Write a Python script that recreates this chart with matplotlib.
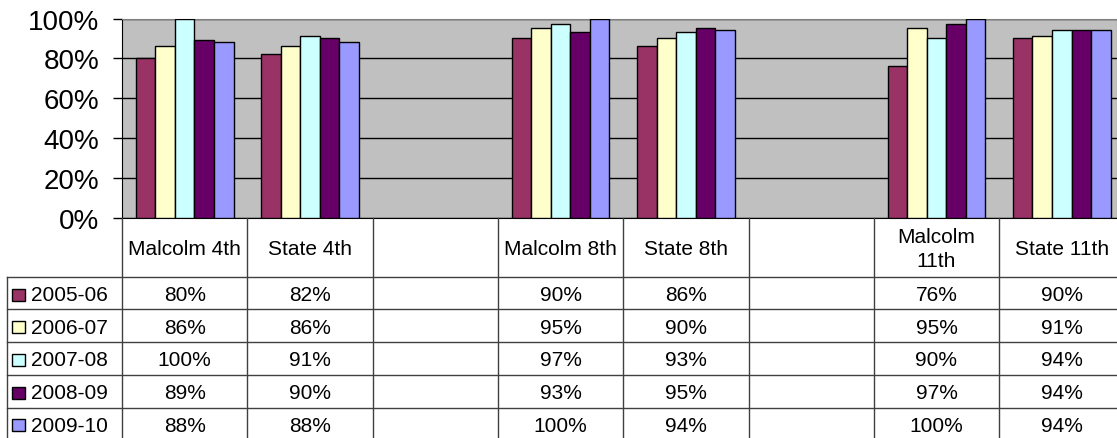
import numpy as np
import matplotlib.pyplot as plt
from matplotlib.patches import Rectangle

plt.rcParams['font.family'] = ['Liberation Sans', 'DejaVu Sans']

categories = ['Malcolm 4th', 'State 4th', '', 'Malcolm 8th', 'State 8th', '', 'Malcolm\n11th', 'State 11th']
years = ['2005-06', '2006-07', '2007-08', '2008-09', '2009-10']
colors = ['#993366', '#FFFFCC', '#CCFFFF', '#660066', '#9999FF']

y2005 = [80, 82, None, 90, 86, None, 76, 90]
y2006 = [86, 86, None, 95, 90, None, 95, 91]
y2007 = [100, 91, None, 97, 93, None, 90, 94]
y2008 = [89, 90, None, 93, 95, None, 97, 94]
y2009 = [88, 88, None, 100, 94, None, 100, 94]
series = [y2005, y2006, y2007, y2008, y2009]

W, H = 1117, 439
cat_px = 125.3
x0_px = 122
zero_px = 219.3
top_px = 19.5

fig = plt.figure(figsize=(W / 100, H / 100), dpi=100)

ax = fig.add_axes([x0_px / W, 1 - zero_px / H, (W - x0_px) / W, (zero_px - top_px) / H])
ax.set_facecolor('#C0C0C0')
xmax = -0.5 + (W - x0_px) / cat_px
ax.set_xlim(-0.5, xmax)
ax.set_ylim(0, 1)

bw = 0.156
x = np.arange(len(categories))
for i, s in enumerate(series):
    vals = np.array([np.nan if v is None else v / 100 for v in s])
    ax.bar(x + (i - 2) * bw, vals, bw, color=colors[i], edgecolor='black', linewidth=1, zorder=3)

ax.set_yticks(np.arange(0, 1.01, 0.2))
ax.set_yticklabels(['%d%%' % round(t * 100) for t in np.arange(0, 1.01, 0.2)], fontsize=20)
ax.tick_params(axis='y', direction='out', length=6.5, width=1, pad=10, color='black')
ax.set_xticks([])
ax.yaxis.grid(True, color='black', linewidth=1)
ax.set_axisbelow(True)
ax.spines['top'].set_color('#808080')
ax.spines['right'].set_color('#808080')
ax.spines['left'].set_color('black')
ax.spines['bottom'].set_color('black')

# data table below the chart
tb = fig.add_axes([x0_px / W, 0, (W - x0_px) / W, 1 - zero_px / H])
tb.set_xlim(-0.5, xmax)
tb.set_ylim(H, zero_px)
tb.axis('off')

line_c = '#404040'
head_bot = 277.7
row_h = 32.7
left_x = -0.5 - (x0_px - 7) / cat_px

for k in range(len(categories) + 1):
    tb.plot([k - 0.5, k - 0.5], [zero_px, H], color=line_c, lw=1, clip_on=False)
tb.plot([left_x, left_x], [head_bot, H], color=line_c, lw=1, clip_on=False)
for r in range(5):
    yy = head_bot + r * row_h
    tb.plot([left_x, len(categories) - 0.5], [yy, yy], color=line_c, lw=1, clip_on=False)

for j, c in enumerate(categories):
    tb.text(j, (zero_px + head_bot) / 2 + 1, c, ha='center', va='center', fontsize=15, linespacing=1.3)

for i, s in enumerate(series):
    yc = head_bot + (i + 0.5) * row_h + 1.5
    tb.add_patch(Rectangle((-0.5 - (x0_px - 12) / cat_px, yc - 6), 13 / cat_px, 12,
                           facecolor=colors[i], edgecolor='black', lw=1, clip_on=False))
    tb.text(-0.5 - (x0_px - 31) / cat_px, yc, years[i], ha='left', va='center', fontsize=15)
    for j, v in enumerate(s):
        if v is not None:
            tb.text(j, yc, '%d%%' % v, ha='center', va='center', fontsize=15)

plt.savefig('out.png', dpi=100)
